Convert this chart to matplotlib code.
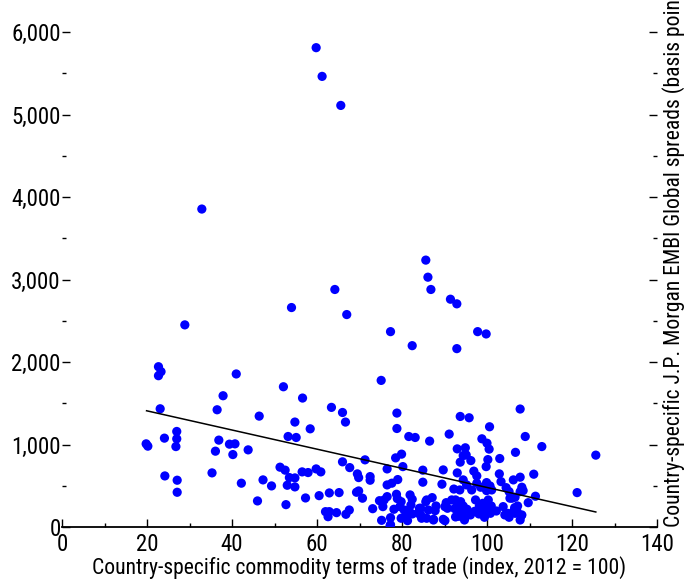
import numpy as np
import matplotlib
matplotlib.use("Agg")
import matplotlib.pyplot as plt
from matplotlib.ticker import MultipleLocator, FuncFormatter

plt.rcParams['font.family'] = ['Roboto Condensed', 'Liberation Sans Narrow', 'Liberation Sans', 'DejaVu Sans']

# commodity terms of trade (index, 2012 = 100)
tot = [59.8, 61.2, 65.6, 32.9, 85.6, 86.1, 86.8, 64.2, 91.4, 92.9, 54.0, 67.0, 28.9, 77.3, 97.8,
       99.8, 82.4, 92.9, 22.7, 23.3, 22.7, 41.0, 75.1, 52.1, 37.9, 56.6, 63.4, 23.1, 36.5, 107.8,
       66.0, 66.7, 46.4, 54.8, 58.4, 53.2, 55.1, 19.8, 20.2, 24.1, 27.0, 27.0, 26.8, 36.9, 39.4,
       40.7, 36.1, 40.2, 43.8, 66.0, 67.7, 51.3, 52.5, 53.5, 54.8, 53.0, 54.8, 56.5, 57.9, 59.8,
       60.9, 24.2, 27.1, 27.1, 35.3, 42.2, 47.3, 49.3, 46.0, 52.7, 57.3, 60.5, 62.9, 65.2, 62.0,
       62.9, 62.6, 64.6, 66.8, 67.6,
       78.8, 78.8, 93.7, 95.8, 100.6, 81.6, 83.1, 86.5, 91.1, 98.8, 100.0, 100.5, 109.0, 112.9, 106.7,
       93.0, 94.9, 94.4, 95.1, 96.2, 93.7, 100.2, 99.8, 103.0, 71.3, 69.5, 69.8, 72.5, 72.5, 76.5,
       78.5, 79.9, 80.2, 84.9, 84.9, 89.7, 89.4, 93.0, 96.9, 97.6, 92.2, 76.5, 77.6, 79.0, 69.3,
       69.8, 70.7, 125.6, 111.0, 106.2, 107.8, 108.2, 108.5, 105.9, 111.4, 109.7, 121.2, 102.9,
       76.5, 75.8, 74.7, 75.5, 73.1, 78.7, 78.9, 79.8, 79.5, 78.1, 80.5, 81.9, 82.4, 82.1, 81.6,
       82.4, 81.0, 79.8, 81.3, 84.1, 84.4, 83.8, 75.2, 77.3, 77.3, 85.8, 86.2, 85.8, 87.1, 85.6,
       84.4, 84.6, 88.0, 87.8, 90.4, 90.7, 91.7, 90.1, 92.6, 93.8, 93.0, 94.4, 92.4, 93.8, 95.3,
       96.1, 94.5, 92.6, 93.4, 87.4, 89.7, 97.3, 98.2, 99.0, 99.8, 101.0, 100.8, 102.2, 99.4, 98.1,
       97.1, 98.7, 100.3, 103.8, 104.8, 105.2, 106.2, 107.2, 104.2, 94.4, 95.2, 96.4, 93.6, 97.6,
       98.5, 99.9, 100.7, 101.1, 99.9, 103.3, 104.5, 105.2, 105.4, 106.6, 107.8, 106.5, 107.1, 108.2,
       107.8, 106.6, 77.2, 90.1, 94.7, 108.0, 87.4]

# EMBI Global spreads (basis points)
spreads = [5810, 5462, 5110, 3854, 3235, 3028, 2879, 2879, 2761, 2705, 2660, 2575, 2450, 2368, 2368,
           2340, 2198, 2162, 1943, 1883, 1834, 1855, 1777, 1700, 1591, 1563, 1450, 1433, 1421, 1430,
           1388, 1272, 1344, 1272, 1190, 1097, 1085, 1008, 980, 1077, 1158, 1069, 975, 1053, 1004,
           1008, 919, 878, 935, 790, 720, 725, 689, 599, 595, 506, 486, 668, 660, 704,
           668, 619, 567, 421, 656, 531, 571, 498, 316, 271, 352, 380, 413, 417, 186,
           186, 125, 174, 154, 206,
           1381, 1194, 1340, 1324, 1215, 1097, 1085, 1041, 1126, 1069, 1016, 944, 1097, 975, 905,
           947, 960, 866, 874, 805, 786, 817, 732, 830, 814, 644, 599, 611, 567, 704,
           838, 883, 732, 689, 543, 692, 519, 656, 677, 619, 460, 510, 531, 575, 421,
           437, 349, 871, 640, 571, 604, 482, 441, 349, 373, 295, 417, 644,
           368, 328, 319, 247, 222, 397, 344, 307, 247, 215, 206, 389, 336, 267, 206,
           158, 146, 106, 77, 227, 146, 166, 81, 113, 28, 328, 206, 106, 356, 307,
           227, 106, 255, 198, 295, 227, 328, 247, 328, 307, 255, 255, 223, 182, 215,
           146, 122, 122, 130, 93, 93, 328, 255, 287, 223, 255, 166, 194, 118, 158,
           190, 190, 328, 247, 166, 118, 186, 255, 146, 571, 510, 449, 449, 531,
           482, 538, 498, 449, 441, 550, 477, 429, 349, 361, 429, 234, 186, 146,
           85, 166, 16, 77, 85, 134, 85]

# fitted trend line end points
trend_x = [19.9, 125.6]
trend_y = [1409, 182]

fig = plt.figure(figsize=(6.88, 5.83), dpi=100)
ax = fig.add_axes([62/688, 1 - 527/583, 595/688, 495/583])

ax.scatter(tot, spreads, s=44, color='#0000ff', edgecolors='none', zorder=3)
ax.plot(trend_x, trend_y, color='black', lw=1.1, zorder=4)

ax.set_xlim(0, 140)
ax.set_ylim(0, 6000)
ax.xaxis.set_major_locator(MultipleLocator(20))
ax.xaxis.set_minor_locator(MultipleLocator(10))
ax.yaxis.set_major_locator(MultipleLocator(1000))
ax.yaxis.set_minor_locator(MultipleLocator(500))
ax.yaxis.set_major_formatter(FuncFormatter(lambda v, p: f"{int(v):,}"))

for s in ['top', 'right', 'left']:
    ax.spines[s].set_visible(False)
ax.spines['bottom'].set_linewidth(1.3)

ax.tick_params(axis='both', which='major', direction='in', length=6, width=1.0, labelsize=16.5)
ax.tick_params(axis='both', which='minor', direction='in', length=3, width=1.0)
ax.tick_params(axis='y', pad=1)
ax.tick_params(axis='x', pad=4)

ax2 = ax.twinx()
ax2.set_ylim(0, 6000)
ax2.yaxis.set_major_locator(MultipleLocator(1000))
ax2.yaxis.set_minor_locator(MultipleLocator(500))
for s in ['top', 'right', 'left', 'bottom']:
    ax2.spines[s].set_visible(False)
ax2.tick_params(axis='y', which='major', direction='in', length=6, width=1.0, labelright=False)
ax2.tick_params(axis='y', which='minor', direction='in', length=3, width=1.0)

ax.set_xlabel('Country-specific commodity terms of trade (index, 2012 = 100)', fontsize=15.6, labelpad=0)
ax.text(1.028, 0.0, 'Country-specific J.P. Morgan EMBI Global spreads (basis points)',
        transform=ax.transAxes, rotation=90, ha='center', va='bottom', fontsize=15.6)

fig.savefig('out.png', dpi=100)
